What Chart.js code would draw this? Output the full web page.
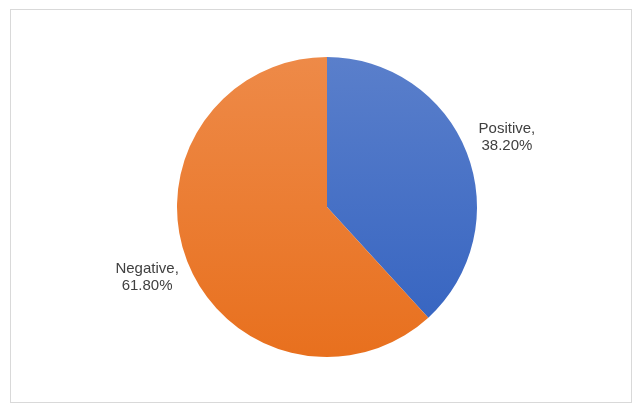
<!DOCTYPE html>
<html>
<head>
<meta charset="utf-8">
<script src="https://cdn.jsdelivr.net/npm/chart.js@4/dist/chart.umd.min.js"></script>
<style>
  html, body { margin: 0; padding: 0; background: #ffffff; }
  #wrap { width: 637px; height: 410px; position: relative; }
</style>
</head>
<body>
<div id="wrap"><canvas id="c" width="637" height="410"></canvas></div>
<script>
const categories = ["Positive", "Negative"];
const shares = [38.20, 61.80];
const valueLabels = ["38.20%", "61.80%"];
const topColors = ["#5a7fcb", "#ee8a48"];
const bottomColors = ["#3362c0", "#e8701e"];

const framePlugin = {
  id: 'frame',
  beforeDraw(chart) {
    const ctx = chart.ctx;
    ctx.save();
    ctx.fillStyle = '#ffffff';
    ctx.fillRect(0, 0, chart.width, chart.height);
    ctx.strokeStyle = '#d9d9d9';
    ctx.lineWidth = 1;
    ctx.strokeRect(10.5, 9.5, 621, 393);
    ctx.restore();
  }
};

const labelPlugin = {
  id: 'sliceLabels',
  afterDatasetsDraw(chart) {
    const ctx = chart.ctx;
    const meta = chart.getDatasetMeta(0);
    ctx.save();
    ctx.font = '15px "Liberation Sans", Arial, sans-serif';
    ctx.fillStyle = '#404040';
    ctx.textAlign = 'center';
    ctx.textBaseline = 'middle';
    meta.data.forEach((arc, i) => {
      const p = arc.getProps(['x', 'y', 'startAngle', 'endAngle', 'outerRadius'], true);
      const mid = (p.startAngle + p.endAngle) / 2;
      const d = p.outerRadius + 43;
      const cx = p.x + Math.cos(mid) * d;
      const cy = p.y + Math.sin(mid) * d;
      ctx.fillText(categories[i] + ',', cx, cy - 8.5);
      ctx.fillText(valueLabels[i], cx, cy + 8.5);
    });
    ctx.restore();
  }
};

function sliceFill(context) {
  const chart = context.chart;
  const area = chart.chartArea;
  const i = context.dataIndex;
  if (!area) return topColors[i];
  const g = chart.ctx.createLinearGradient(0, area.top, 0, area.bottom);
  g.addColorStop(0, topColors[i]);
  g.addColorStop(1, bottomColors[i]);
  return g;
}

new Chart(document.getElementById('c'), {
  type: 'pie',
  data: {
    labels: categories,
    datasets: [{
      data: shares,
      backgroundColor: sliceFill,
      borderWidth: 0
    }]
  },
  options: {
    responsive: false,
    animation: false,
    layout: { padding: { left: 177, right: 160, top: 57, bottom: 53 } },
    plugins: {
      legend: { display: false },
      tooltip: { enabled: false },
      title: { display: false }
    }
  },
  plugins: [framePlugin, labelPlugin]
});
</script>
</body>
</html>
